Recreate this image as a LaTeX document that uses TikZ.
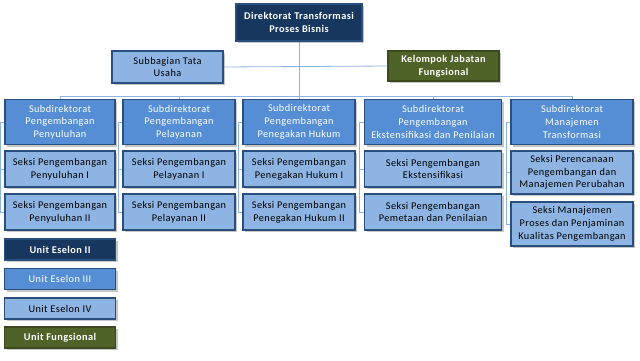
\documentclass[tikz,border=0pt]{standalone}
\usepackage{fontspec}
\setmainfont{Carlito}[LetterSpace=4]
\usepackage{tikz}
\usetikzlibrary{positioning, shadows}
\definecolor{eselonii}{HTML}{17375E}
\definecolor{eseloniii}{HTML}{558ED5}
\definecolor{eseloniv}{HTML}{8EB4E3}
\definecolor{fungsional}{HTML}{4F6228}
\definecolor{boxline}{HTML}{2B4F7C}
\definecolor{olivine}{HTML}{3B4A1E}
\definecolor{linkline}{HTML}{8DB3E2}

\begin{document}
\begin{tikzpicture}[x=1pt, y=-1pt,
    every node/.style={draw=boxline, line width=1.5pt, align=center, inner sep=1pt,
        font=\fontsize{10.3}{12.7}\selectfont,
        drop shadow={opacity=0.45, shadow xshift=2pt, shadow yshift=-2pt}},
    esII/.style={fill=eselonii, text=white, font=\fontsize{10.3}{12.7}\selectfont\bfseries},
    esIII/.style={fill=eseloniii, text=white},
    esIV/.style={fill=eseloniv, text=black},
    fung/.style={fill=fungsional, draw=olivine, text=white, font=\fontsize{10.3}{12.7}\selectfont\bfseries},
    link/.style={draw=linkline, line width=0.8pt}
]
\useasboundingbox (0,0) rectangle (640,360);

\node[esII, minimum width=126pt, minimum height=37pt] (dir) at (299,22.5) {Direktorat Transformasi\\Proses Bisnis};
\node[esIV, minimum width=111pt, minimum height=32pt] (tu) at (167.5,67) {Subbagian Tata\\Usaha};
\node[fung, minimum width=111pt, minimum height=30pt] (jf) at (443.5,66) {Kelompok Jabatan\\Fungsional};

% subdirektorat
\node[esIII, minimum width=110pt, minimum height=45pt] (s1) at (60,122) {Subdirektorat\\Pengembangan\\Penyuluhan};
\node[esIII, minimum width=112pt, minimum height=45pt] (s2) at (179,122) {Subdirektorat\\Pengembangan\\Pelayanan};
\node[esIII, minimum width=112pt, minimum height=45pt] (s3) at (299,122) {Subdirektorat\\Pengembangan\\Penegakan Hukum};
\node[esIII, minimum width=137pt, minimum height=45pt] (s4) at (433,122) {Subdirektorat\\Pengembangan\\Ekstensifikasi dan Penilaian};
\node[esIII, minimum width=122pt, minimum height=45pt] (s5) at (572,122) {Subdirektorat\\Manajemen\\Transformasi};

% seksi
\node[esIV, minimum width=110pt, minimum height=36pt] (a1) at (60,169) {Seksi Pengembangan\\Penyuluhan I};
\node[esIV, minimum width=110pt, minimum height=36pt] (b1) at (60,212) {Seksi Pengembangan\\Penyuluhan II};
\node[esIV, minimum width=112pt, minimum height=36pt] (a2) at (179,169) {Seksi Pengembangan\\Pelayanan I};
\node[esIV, minimum width=112pt, minimum height=36pt] (b2) at (179,212) {Seksi Pengembangan\\Pelayanan II};
\node[esIV, minimum width=112pt, minimum height=36pt] (a3) at (299,169) {Seksi Pengembangan\\Penegakan Hukum I};
\node[esIV, minimum width=112pt, minimum height=36pt] (b3) at (299,212) {Seksi Pengembangan\\Penegakan Hukum II};
\node[esIV, minimum width=137pt, minimum height=36pt] (a4) at (433,169) {Seksi Pengembangan\\Ekstensifikasi};
\node[esIV, minimum width=137pt, minimum height=36pt] (b4) at (433,212) {Seksi Pengembangan\\Pemetaan dan Penilaian};
\node[esIV, minimum width=122pt, minimum height=43pt] (a5) at (572,172.5) {Seksi Perencanaan\\Pengembangan dan\\Manajemen Perubahan};
\node[esIV, minimum width=122pt, minimum height=44pt] (b5) at (572,224) {Seksi Manajemen\\Proses dan Penjaminan\\Kualitas Pengembangan};

% legenda
\node[esII, minimum width=111pt, minimum height=21pt] (l1) at (60,249.5) {Unit Eselon II};
\node[esIII, minimum width=111pt, minimum height=21pt] (l2) at (60,279) {Unit Eselon III};
\node[esIV, minimum width=111pt, minimum height=21pt] (l3) at (60,308.5) {Unit Eselon IV};
\node[fung, minimum width=111pt, minimum height=21pt] (l4) at (60,337.5) {Unit Fungsional};

\coordinate (bus) at (0,96);
\draw[link] (dir.south) -- (dir.south |- bus);
\draw[link] (tu.east) -- (jf.west);
\draw[link] (s1.north |- bus) -- (s5.north |- bus);
\foreach \i in {1,...,5} {
    \draw[link] (s\i.north) -- (s\i.north |- bus);
    \draw[link] (s\i.west) -- ++(-4,0) |- (a\i.west);
    \draw[link] (s\i.west) -- ++(-4,0) |- (b\i.west);
}
\end{tikzpicture}
\end{document}
